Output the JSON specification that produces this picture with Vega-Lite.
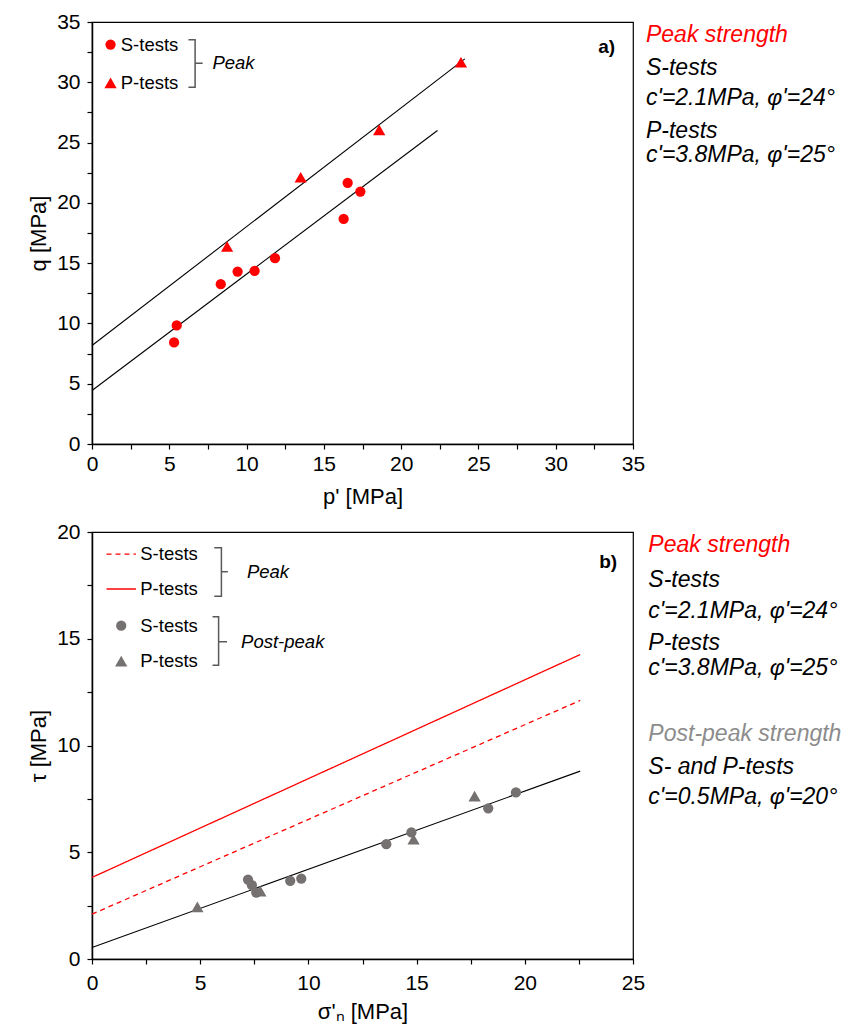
{
  "$schema": "https://vega.github.io/schema/vega-lite/v6.json",
  "padding": {"top": 10, "left": 27, "right": 2, "bottom": 5},
  "background": "white",
  "spacing": 12,
  "config": {
    "view": {"stroke": "black", "strokeWidth": 1.2},
    "axis": {"grid": false, "domainColor": "black", "domainWidth": 1.5, "tickColor": "black", "tickWidth": 1.2, "tickSize": 5,
      "labelColor": "black", "titleColor": "black", "labelFont": "Liberation Sans", "titleFont": "Liberation Sans",
      "labelFontSize": 21, "titleFontSize": 22, "titleFontWeight": "normal", "labelFlush": false, "labelOverlap": false},
    "text": {"font": "Liberation Sans"}
  },
  "vconcat": [
    {
      "width": 541, "height": 422,
      "encoding": {
        "x": {"field": "x", "type": "quantitative", "scale": {"domain": [0, 35], "nice": false, "zero": false},
          "axis": {"title": "p' [MPa]", "values": [0,2.5,5,7.5,10,12.5,15,17.5,20,22.5,25,27.5,30,32.5,35],
            "labelExpr": "datum.value % 5 === 0 ? datum.label : ''", "labelPadding": 4, "titlePadding": 12}},
        "y": {"field": "y", "type": "quantitative", "scale": {"domain": [0, 35], "nice": false, "zero": false},
          "axis": {"title": "q [MPa]", "values": [0,2.5,5,7.5,10,12.5,15,17.5,20,22.5,25,27.5,30,32.5,35],
            "labelExpr": "datum.value % 5 === 0 ? datum.label : ''", "labelPadding": 7, "titlePadding": 6}}
      },
      "layer": [
        {
          "data": {"values": [
            {"series": "S", "x": 0, "y": 4.44}, {"series": "S", "x": 22.35, "y": 26.0},
            {"series": "P", "x": 0, "y": 8.17}, {"series": "P", "x": 24.12, "y": 31.94}
          ]},
          "mark": {"type": "line", "color": "black", "strokeWidth": 1.1},
          "encoding": {"detail": {"field": "series"}}
        },
        {
          "data": {"values": [
            {"test": "S-tests", "x": 5.31, "y": 8.42}, {"test": "S-tests", "x": 5.48, "y": 9.83},
            {"test": "S-tests", "x": 8.33, "y": 13.25}, {"test": "S-tests", "x": 9.42, "y": 14.3},
            {"test": "S-tests", "x": 10.52, "y": 14.36}, {"test": "S-tests", "x": 11.84, "y": 15.41},
            {"test": "S-tests", "x": 16.54, "y": 21.66}, {"test": "S-tests", "x": 17.36, "y": 20.94},
            {"test": "S-tests", "x": 16.28, "y": 18.67},
            {"test": "P-tests", "x": 8.74, "y": 16.38}, {"test": "P-tests", "x": 13.5, "y": 22.12},
            {"test": "P-tests", "x": 18.58, "y": 26.05}, {"test": "P-tests", "x": 23.87, "y": 31.66},
            {"test": "S-tests", "x": 1.2, "y": 33.13}, {"test": "P-tests", "x": 1.2, "y": 29.95}
          ]},
          "mark": {"type": "point", "filled": true, "opacity": 1, "color": "#FF0000"},
          "encoding": {
            "shape": {"field": "test", "scale": {"domain": ["S-tests", "P-tests"], "range": ["circle", "triangle-up"]}, "legend": null},
            "size": {"field": "test", "type": "nominal", "scale": {"domain": ["S-tests", "P-tests"], "range": [105, 150]}, "legend": null}
          }
        },
        {
          "data": {"values": [
            {"t": "S-tests", "x": 1.86, "y": 33.13}, {"t": "P-tests", "x": 1.86, "y": 29.95}
          ]},
          "mark": {"type": "text", "align": "left", "baseline": "middle", "fontSize": 18.5, "color": "black"},
          "encoding": {"text": {"field": "t"}}
        },
        {
          "data": {"values": [
            {"part": "b", "o": 1, "x": 6.24, "y": 33.52}, {"part": "b", "o": 2, "x": 6.67, "y": 33.52},
            {"part": "b", "o": 3, "x": 6.67, "y": 29.59}, {"part": "b", "o": 4, "x": 6.24, "y": 29.59},
            {"part": "m", "o": 1, "x": 6.67, "y": 31.58}, {"part": "m", "o": 2, "x": 7.16, "y": 31.58}
          ]},
          "mark": {"type": "line", "color": "#595959", "strokeWidth": 1.5},
          "encoding": {"detail": {"field": "part"}, "order": {"field": "o", "type": "quantitative"}}
        },
        {
          "data": {"values": [{"t": "Peak", "x": 7.79, "y": 31.58}]},
          "mark": {"type": "text", "align": "left", "baseline": "middle", "fontSize": 18.5, "fontStyle": "italic", "color": "black"},
          "encoding": {"text": {"field": "t"}}
        },
        {
          "data": {"values": [{"t": "a)", "x": 33.84, "y": 32.9}]},
          "mark": {"type": "text", "align": "right", "baseline": "middle", "fontSize": 19, "fontWeight": "bold", "color": "black"},
          "encoding": {"text": {"field": "t"}}
        },
        {
          "data": {"values": [
            {"t": "Peak strength", "role": "peak", "x": 35.84, "y": 33.96},
            {"t": "S-tests", "role": "body", "x": 35.84, "y": 31.19},
            {"t": "c'=2.1MPa, φ'=24°", "role": "body", "x": 35.84, "y": 28.67},
            {"t": "P-tests", "role": "body", "x": 35.84, "y": 25.94},
            {"t": "c'=3.8MPa, φ'=25°", "role": "body", "x": 35.84, "y": 23.95}
          ]},
          "mark": {"type": "text", "align": "left", "baseline": "middle", "fontSize": 23, "fontStyle": "italic"},
          "encoding": {"text": {"field": "t"},
            "color": {"field": "role", "scale": {"domain": ["peak", "body", "post"], "range": ["#FF0000", "#000000", "#8C8C8C"]}, "legend": null}}
        }
      ]
    },
    {
      "width": 541, "height": 427,
      "encoding": {
        "x": {"field": "x", "type": "quantitative", "scale": {"domain": [0, 25], "nice": false, "zero": false},
          "axis": {"title": "σ'ₙ [MPa]", "values": [0,2.5,5,7.5,10,12.5,15,17.5,20,22.5,25],
            "labelExpr": "datum.value % 5 === 0 ? datum.label : ''", "labelPadding": 8, "titlePadding": 8}},
        "y": {"field": "y", "type": "quantitative", "scale": {"domain": [0, 20], "nice": false, "zero": false},
          "axis": {"title": "τ [MPa]", "values": [0,2.5,5,7.5,10,12.5,15,17.5,20],
            "labelExpr": "datum.value % 5 === 0 ? datum.label : ''", "labelPadding": 7, "titlePadding": 6}}
      },
      "layer": [
        {
          "data": {"values": [
            {"id": "S-main", "test": "S-tests", "x": 0, "y": 2.1}, {"id": "S-main", "test": "S-tests", "x": 22.56, "y": 12.11},
            {"id": "P-main", "test": "P-tests", "x": 0, "y": 3.82}, {"id": "P-main", "test": "P-tests", "x": 22.56, "y": 14.26},
            {"id": "S-leg", "test": "S-tests", "x": 0.67, "y": 18.96}, {"id": "S-leg", "test": "S-tests", "x": 2.03, "y": 18.96},
            {"id": "P-leg", "test": "P-tests", "x": 0.67, "y": 17.33}, {"id": "P-leg", "test": "P-tests", "x": 2.03, "y": 17.33}
          ]},
          "mark": {"type": "line", "color": "#FF0000", "strokeWidth": 1.3},
          "encoding": {"detail": {"field": "id"},
            "strokeDash": {"field": "test", "scale": {"domain": ["S-tests", "P-tests"], "range": [[5, 4], [1, 0]]}, "legend": null}}
        },
        {
          "data": {"values": [
            {"x": 0, "y": 0.54}, {"x": 22.56, "y": 8.8}
          ]},
          "mark": {"type": "line", "color": "black", "strokeWidth": 1.1},
          "encoding": {}
        },
        {
          "data": {"values": [
            {"test": "P-tests", "x": 4.87, "y": 2.44},
            {"test": "S-tests", "x": 7.21, "y": 3.72}, {"test": "S-tests", "x": 7.39, "y": 3.46},
            {"test": "S-tests", "x": 7.59, "y": 3.11}, {"test": "P-tests", "x": 7.78, "y": 3.18},
            {"test": "S-tests", "x": 9.16, "y": 3.66}, {"test": "S-tests", "x": 9.67, "y": 3.77},
            {"test": "S-tests", "x": 13.6, "y": 5.38}, {"test": "S-tests", "x": 14.76, "y": 5.93},
            {"test": "P-tests", "x": 14.86, "y": 5.61}, {"test": "P-tests", "x": 17.68, "y": 7.63},
            {"test": "S-tests", "x": 18.31, "y": 7.06}, {"test": "S-tests", "x": 19.59, "y": 7.8},
            {"test": "S-tests", "x": 1.35, "y": 15.61}, {"test": "P-tests", "x": 1.35, "y": 13.95}
          ]},
          "mark": {"type": "point", "filled": true, "opacity": 1, "color": "#767171"},
          "encoding": {
            "shape": {"field": "test", "scale": {"domain": ["S-tests", "P-tests"], "range": ["circle", "triangle-up"]}, "legend": null},
            "size": {"field": "test", "type": "nominal", "scale": {"domain": ["S-tests", "P-tests"], "range": [105, 140]}, "legend": null}
          }
        },
        {
          "data": {"values": [
            {"t": "S-tests", "x": 2.23, "y": 18.96}, {"t": "P-tests", "x": 2.23, "y": 17.33},
            {"t": "S-tests", "x": 2.23, "y": 15.61}, {"t": "P-tests", "x": 2.23, "y": 13.95}
          ]},
          "mark": {"type": "text", "align": "left", "baseline": "middle", "fontSize": 18.5, "color": "black"},
          "encoding": {"text": {"field": "t"}}
        },
        {
          "data": {"values": [
            {"part": "b1", "o": 1, "x": 5.65, "y": 19.26}, {"part": "b1", "o": 2, "x": 5.98, "y": 19.26},
            {"part": "b1", "o": 3, "x": 5.98, "y": 16.99}, {"part": "b1", "o": 4, "x": 5.65, "y": 16.99},
            {"part": "m1", "o": 1, "x": 5.98, "y": 18.14}, {"part": "m1", "o": 2, "x": 6.28, "y": 18.14},
            {"part": "b2", "o": 1, "x": 5.57, "y": 16.03}, {"part": "b2", "o": 2, "x": 5.85, "y": 16.03},
            {"part": "b2", "o": 3, "x": 5.85, "y": 13.76}, {"part": "b2", "o": 4, "x": 5.57, "y": 13.76},
            {"part": "m2", "o": 1, "x": 5.85, "y": 14.86}, {"part": "m2", "o": 2, "x": 6.24, "y": 14.86}
          ]},
          "mark": {"type": "line", "color": "#595959", "strokeWidth": 1.5},
          "encoding": {"detail": {"field": "part"}, "order": {"field": "o", "type": "quantitative"}}
        },
        {
          "data": {"values": [{"t": "Peak", "x": 7.16, "y": 18.14}, {"t": "Post-peak", "x": 6.89, "y": 14.86}]},
          "mark": {"type": "text", "align": "left", "baseline": "middle", "fontSize": 18.5, "fontStyle": "italic", "color": "black"},
          "encoding": {"text": {"field": "t"}}
        },
        {
          "data": {"values": [{"t": "b)", "x": 24.27, "y": 18.6}]},
          "mark": {"type": "text", "align": "right", "baseline": "middle", "fontSize": 19, "fontWeight": "bold", "color": "black"},
          "encoding": {"text": {"field": "t"}}
        },
        {
          "data": {"values": [
            {"t": "Peak strength", "role": "peak", "x": 25.71, "y": 19.38},
            {"t": "S-tests", "role": "body", "x": 25.71, "y": 17.76},
            {"t": "c'=2.1MPa, φ'=24°", "role": "body", "x": 25.71, "y": 16.29},
            {"t": "P-tests", "role": "body", "x": 25.71, "y": 14.81},
            {"t": "c'=3.8MPa, φ'=25°", "role": "body", "x": 25.71, "y": 13.61},
            {"t": "Post-peak strength", "role": "post", "x": 25.71, "y": 10.56},
            {"t": "S- and P-tests", "role": "body", "x": 25.71, "y": 9.0},
            {"t": "c'=0.5MPa, φ'=20°", "role": "body", "x": 25.71, "y": 7.6}
          ]},
          "mark": {"type": "text", "align": "left", "baseline": "middle", "fontSize": 23, "fontStyle": "italic"},
          "encoding": {"text": {"field": "t"},
            "color": {"field": "role", "scale": {"domain": ["peak", "body", "post"], "range": ["#FF0000", "#000000", "#8C8C8C"]}, "legend": null}}
        }
      ]
    }
  ]
}
